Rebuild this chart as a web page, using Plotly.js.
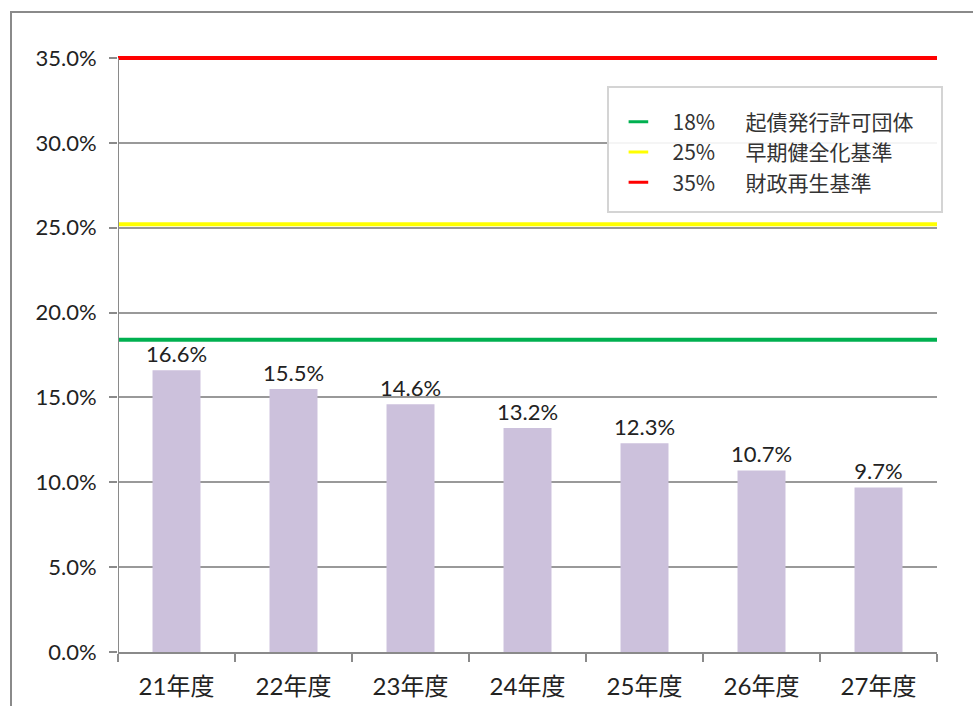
<!DOCTYPE html>
<html><head><meta charset="utf-8">
<script src="https://cdn.plot.ly/plotly-3.0.1.min.js"></script>
<style>
html,body{margin:0;padding:0;background:#fff;}
#wrap{position:relative;width:973px;height:706px;overflow:hidden;}
#chart{width:973px;height:706px;}
#frame{position:absolute;left:10px;top:11px;width:1000px;height:800px;border:2px solid #8a8a8a;pointer-events:none;}
</style></head>
<body>
<div id="wrap"><div id="chart"></div><div id="frame"></div></div>
<script>
const categories = ['21年度','22年度','23年度','24年度','25年度','26年度','27年度'];
const ratios = [16.6, 15.5, 14.6, 13.2, 12.3, 10.7, 9.7];
const thresholdNames = ['\u00a0\u00a0\u00a018%\u00a0\u00a0　起債発行許可団体','\u00a0\u00a0\u00a025%\u00a0\u00a0　早期健全化基準','\u00a0\u00a0\u00a035%\u00a0\u00a0　財政再生基準'];
const thresholdLevels = [18.4, 25.2, 35];
const thresholdColors = ['#00b050','#ffff00','#ff0000'];

const traces = [{
  type:'bar', x:categories, y:ratios,
  marker:{color:'#ccc1dc'}, width:0.41,
  text: ratios.map(v=>v.toFixed(1)+'%'), textposition:'outside', constraintext:'none',
  textfont:{family:'Lato, "Noto Sans CJK JP"', size:22, color:'#222'},
  cliponaxis:false, showlegend:false, hoverinfo:'skip'
}];
thresholdLevels.forEach((lv,i)=>{
  traces.push({
    type:'scatter', mode:'lines', xaxis:'x2', yaxis:'y',
    x:[0, 1], y:[lv, lv],
    line:{color:thresholdColors[i], width:4}, showlegend:false, cliponaxis:false, hoverinfo:'skip'
  });
});
thresholdLevels.forEach((lv,i)=>{
  traces.push({
    type:'scatter', mode:'markers', xaxis:'x2', yaxis:'y',
    x:[null], y:[null], name:thresholdNames[i],
    marker:{symbol:'line-ew-open', size:14, color:thresholdColors[i], line:{color:thresholdColors[i], width:3}}
  });
});

const layout = {
  width:973, height:706,
  margin:{l:118, r:36, t:55, b:54},
  paper_bgcolor:'#fff', plot_bgcolor:'#fff',
  font:{family:'Lato, "Noto Sans CJK JP"', color:'#222'},
  showlegend:true,
  xaxis:{
    type:'category', showgrid:false, showline:true, linecolor:'#8a8a8a', linewidth:2,
    ticks:'outside', tickson:'boundaries', ticklen:8, tickcolor:'#8a8a8a', tickwidth:2,
    tickfont:{family:'Lato, "Noto Sans CJK JP"', size:24, color:'#222'},
    ticklabelstandoff:12, zeroline:false, fixedrange:true
  },
  xaxis2:{overlaying:'x', range:[0,1], visible:false, fixedrange:true},
  yaxis:{
    range:[0,35.18], dtick:5, tick0:0, tickformat:'.1f', ticksuffix:'%',
    showgrid:true, gridcolor:'#999', gridwidth:2,
    showline:false,
    ticks:'outside', ticklen:8, tickcolor:'#8a8a8a', tickwidth:2,
    tickfont:{family:'Lato, "Noto Sans CJK JP"', size:22, color:'#222'},
    ticklabelstandoff:8, zeroline:false, fixedrange:true
  },
  bargap:0.59,
  legend:{
    x:0.611, y:0.922, xanchor:'left', yanchor:'top',
    bgcolor:'rgba(0,0,0,0)', borderwidth:0, tracegroupgap:0,
    font:{family:'"Noto Sans CJK JP"', size:21, color:'#333'}
  },
  shapes:[
    {type:'rect', xref:'paper', yref:'paper',
    x0:(608-118)/819, x1:(942-118)/819, y0:(652-212)/597, y1:(652-87)/597,
    line:{color:'#d4d4d4', width:2}, fillcolor:'rgba(255,255,255,0.9)', layer:'above'},
    {type:'line', xref:'x2', yref:'y', x0:0, x1:0, y0:0, y1:35, line:{color:'#8a8a8a', width:2}, layer:'above'}
  ]
};
Plotly.newPlot('chart', traces, layout, {displayModeBar:false, staticPlot:true});
</script>
</body></html>
